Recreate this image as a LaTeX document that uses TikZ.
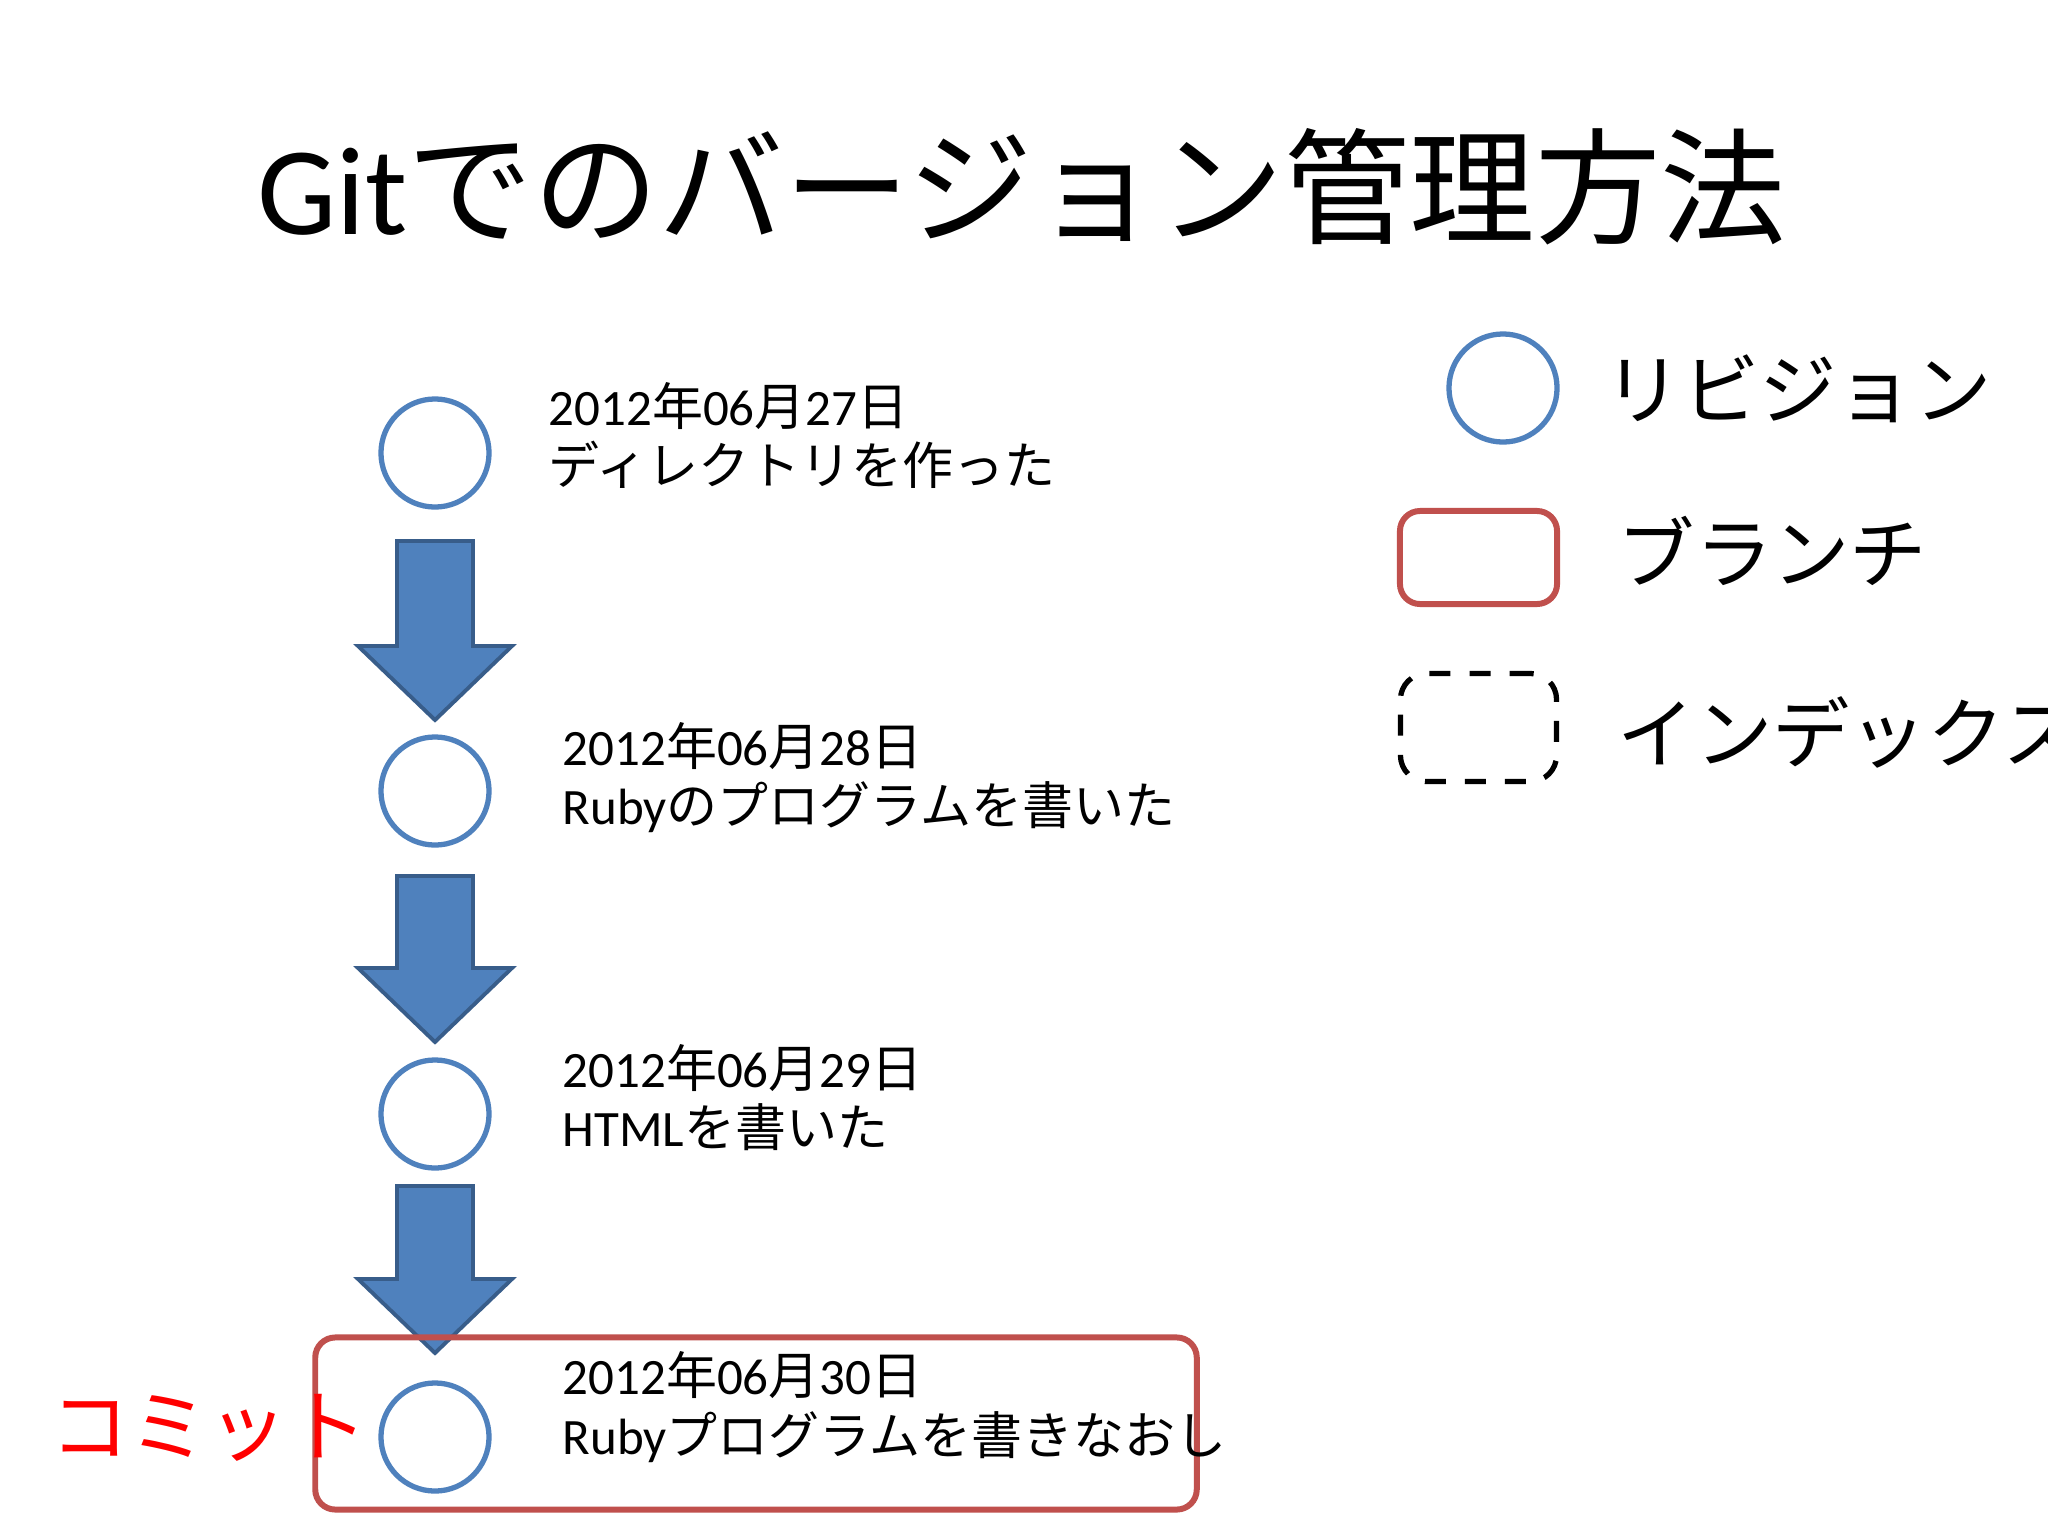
\documentclass[tikz,border=0pt]{standalone}
\usepackage{fontspec}
\setmainfont{Carlito}
\newfontfamily\jp{Noto Sans CJK JP}
\usetikzlibrary{positioning}
\definecolor{revblue}{HTML}{4F81BD}
\definecolor{arrowedge}{HTML}{385D8A}
\definecolor{branchred}{HTML}{C0504D}
\newcommand{\blockarrow}[3]{% x, top, tip
  \draw[arrowstyle] (#1-38,#2) -- (#1+38,#2) -- (#1+38,#3-74) -- (#1+77,#3-74)
    -- (#1,#3) -- (#1-77,#3-74) -- (#1-38,#3-74) -- cycle;}
\begin{document}
\begin{tikzpicture}[x=0.01cm,y=-0.01cm,
  rev/.style={circle,draw=revblue,line width=1.5pt,minimum size=1.08cm,inner sep=0pt,fill=white},
  arrowstyle/.style={fill=revblue,draw=arrowedge,line width=1.1pt,line join=miter},
  branch/.style={draw=branchred,line width=1.7pt,rounded corners=0.2cm,inner sep=0pt},
  indexbox/.style={draw=black,line width=1.5pt,rounded corners=0.26cm,inner sep=0pt,dash pattern=on 0.21cm off 0.19cm},
  txt/.style={anchor=base west,inner sep=0pt,font=\fontsize{14.5pt}{17pt}\selectfont},
  legtxt/.style={anchor=base west,inner sep=0pt,font=\jp\fontsize{22pt}{26pt}\selectfont}]
\useasboundingbox (0,0) rectangle (2048,1536);
\clip (0,0) rectangle (2048,1536);
\fill[white] (0,0) rectangle (2048,1536);

% title
\node[anchor=base,inner sep=0pt,font=\fontsize{35.7pt}{41pt}\selectfont] (title) at (1022,234)
  {Git{\jp でのバージョン管理方法}};

% timeline revisions
\node[rev] (c1) at (435,453) {};
\node[rev] (c2) at (435,791) {};
\node[rev] (c3) at (435,1114) {};
\node[rev] (c4) at (435,1437) {};

% block arrows
\blockarrow{435}{541}{720}
\blockarrow{435}{876}{1042}
\blockarrow{435}{1186}{1353}

% branch box
\node[branch,minimum width=8.81cm,minimum height=1.72cm] (br) at (756,1423.5) {};

% texts
\node[txt] (d1) at (548,425) {2012{\jp 年}06{\jp 月}27{\jp 日}};
\node[txt] (m1) at (548,484) {\jp ディレクトリを作った};
\node[txt] (d2) at (562,765) {2012{\jp 年}06{\jp 月}28{\jp 日}};
\node[txt] (m2) at (562,824) {Ruby{\jp のプログラムを書いた}};
\node[txt] (d3) at (562,1087) {2012{\jp 年}06{\jp 月}29{\jp 日}};
\node[txt] (m3) at (562,1146) {HTML{\jp を書いた}};
\node[txt] (d4) at (562,1394) {2012{\jp 年}06{\jp 月}30{\jp 日}};
\node[txt] (m4) at (562,1454) {Ruby{\jp プログラムを書きなおし}};

% commit label
\node[anchor=base west,inner sep=0pt,text=red,font=\jp\fontsize{22.5pt}{26pt}\selectfont] (commit) at (50,1455) {コミット};

% legend
\node[rev] (lc) at (1503,388) {};
\node[legtxt] (l1) at (1604,418) {リビジョン};
\node[branch,minimum width=1.57cm,minimum height=0.93cm] (lb) at (1478.5,557.5) {};
\node[legtxt] (l2) at (1617,582) {ブランチ};
\node[indexbox,minimum width=1.56cm,minimum height=1.08cm] (li) at (1478.5,727.5) {};
\node[legtxt] (l3) at (1617,762) {インデックス};
\end{tikzpicture}
\end{document}
